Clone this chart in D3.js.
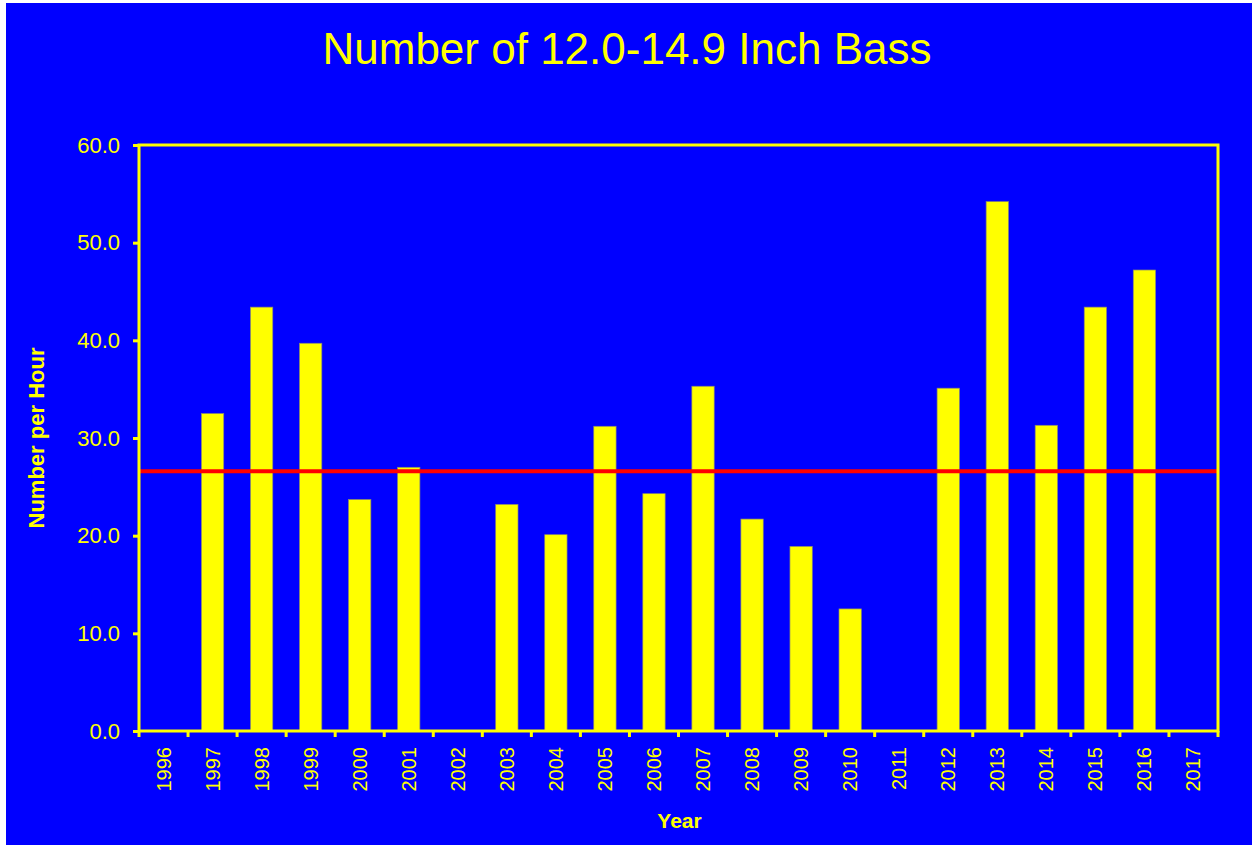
<!DOCTYPE html>
<html>
<head>
<meta charset="utf-8">
<script src="https://cdn.jsdelivr.net/npm/d3@7"></script>
<style>
  html, body { margin: 0; padding: 0; background: #ffffff; }
  svg { display: block; }
  text { font-family: "Liberation Sans", Arial, sans-serif; }
</style>
</head>
<body>
<svg id="chart" width="1252" height="845"></svg>
<script>
const years = ["1996","1997","1998","1999","2000","2001","2002","2003","2004","2005","2006","2007","2008","2009","2010","2011","2012","2013","2014","2015","2016","2017"];
const values = [null,32.5,43.4,39.7,23.7,27.0,null,23.2,20.1,31.2,24.3,35.3,21.7,18.9,12.5,null,35.1,54.2,31.3,43.4,47.2,null];
const meanValue = [26.6];
const yTicks = [0,10,20,30,40,50,60];
const titleText = "Number of 12.0-14.9 Inch Bass";
const xTitle = "Year";
const yTitle = "Number per Hour";

const YELLOW = "#ffff00", BLUE = "#0000ff", RED = "#ff0000";
const svg = d3.select("#chart");
const W = 1252, H = 845;
const m = {left: 139, right: 1218, top: 145, bottom: 731};

svg.append("rect").attr("x", 6).attr("y", 3).attr("width", W - 6).attr("height", H - 3).attr("fill", BLUE);

const x = d3.scaleBand().domain(years).range([m.left, m.right]).paddingInner(0.545).paddingOuter(0.2725);
const y = d3.scaleLinear().domain([0, 60]).range([m.bottom, m.top]);

// bars
const data = years.map((yr, i) => ({year: yr, v: values[i]})).filter(d => d.v !== null);
svg.append("g").selectAll("rect").data(data).join("rect")
  .attr("x", d => x(d.year))
  .attr("y", d => y(d.v))
  .attr("width", x.bandwidth())
  .attr("height", d => y(0) - y(d.v))
  .attr("fill", YELLOW)
  .attr("stroke", "#8a8a70")
  .attr("stroke-width", 0.7);

// mean line
svg.append("g").selectAll("line").data(meanValue).join("line")
  .attr("x1", m.left).attr("x2", m.right)
  .attr("y1", d => y(d)).attr("y2", d => y(d))
  .attr("stroke", RED).attr("stroke-width", 4);

// frame
svg.append("rect").attr("x", m.left).attr("y", m.top)
  .attr("width", m.right - m.left).attr("height", m.bottom - m.top)
  .attr("fill", "none").attr("stroke", YELLOW).attr("stroke-width", 3);

// y axis
const yAxis = d3.axisLeft(y).tickValues(yTicks).tickFormat(d3.format(".1f")).tickSize(6).tickPadding(13);
const gy = svg.append("g").attr("transform", `translate(${m.left},0)`).call(yAxis);
gy.select(".domain").remove();
gy.selectAll(".tick line").attr("stroke", YELLOW).attr("stroke-width", 3);
gy.selectAll(".tick text").attr("fill", YELLOW).attr("font-size", 22)
  .attr("font-family", "Liberation Sans, Arial, sans-serif");

// x axis: ticks at band boundaries
const step = x.step();
const boundaries = d3.range(years.length + 1).map(i => m.left + i * step);
svg.append("g").selectAll("line").data(boundaries).join("line")
  .attr("x1", d => d).attr("x2", d => d)
  .attr("y1", m.bottom).attr("y2", m.bottom + 6)
  .attr("stroke", YELLOW).attr("stroke-width", 3);

svg.append("g").selectAll("text").data(years).join("text")
  .attr("transform", d => `translate(${x(d) + x.bandwidth() / 2},${m.bottom + 16}) rotate(-90)`)
  .attr("text-anchor", "end")
  .attr("dy", "0.35em")
  .attr("fill", YELLOW)
  .attr("font-size", 20)
  .text(d => d);

// titles
svg.append("text").attr("x", 627).attr("y", 64).attr("text-anchor", "middle")
  .attr("fill", YELLOW).attr("font-size", 44).text(titleText);

svg.append("text").attr("x", (m.left + m.right) / 2 + 1).attr("y", 828).attr("text-anchor", "middle")
  .attr("fill", YELLOW).attr("font-size", 21).attr("font-weight", "bold").text(xTitle);

svg.append("text").attr("transform", `translate(36,438) rotate(-90)`).attr("text-anchor", "middle")
  .attr("dy", "0.35em")
  .attr("fill", YELLOW).attr("font-size", 22).attr("font-weight", "bold").text(yTitle);
</script>
</body>
</html>
